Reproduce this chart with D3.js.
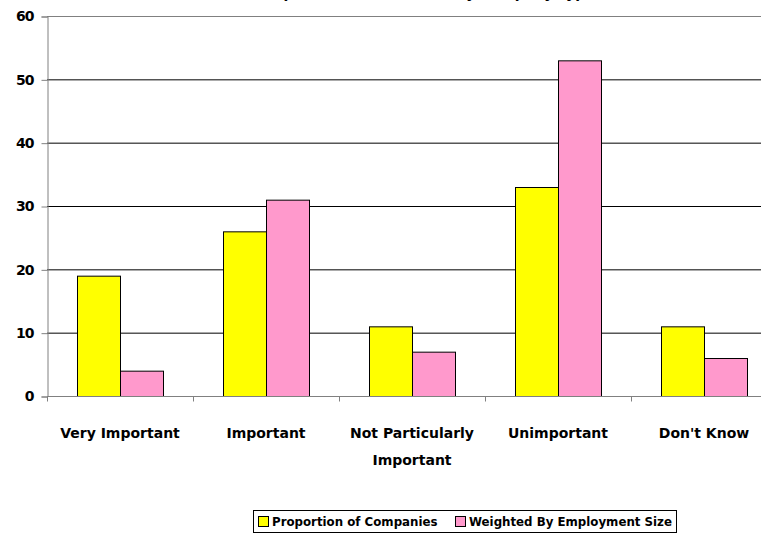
<!DOCTYPE html>
<html><head><meta charset="utf-8">
<script src="https://cdn.jsdelivr.net/npm/d3@7"></script>
<style>body{margin:0;background:#fff}svg{display:block}text{font-family:"DejaVu Sans",sans-serif;font-weight:bold;fill:#000}</style>
</head><body>
<svg id="c" width="761" height="539"></svg>
<script>
const categories = [["Very Important"],["Important"],["Not Particularly","Important"],["Unimportant"],["Don't Know"]];
const seriesNames = ["Proportion of Companies","Weighted By Employment Size"];
const proportion = [19,26,11,33,11];
const weighted = [4,31,7,53,6];
const yTicks = [0,10,20,30,40,50,60];
const colors = ["#FFFF00","#FF99CC"];
const titleText = "Importance of Attribute by Company Type (%)";

(function(){
const svg = d3.select("#c");
const mLeft = 47, mTop = 16, mBottom = 396, bandW = 146;
const x = d3.scaleBand().domain(d3.range(categories.length)).range([mLeft, mLeft + bandW*categories.length]).paddingInner(0).paddingOuter(0);
const y = d3.scaleLinear().domain([0,60]).range([mBottom, mTop]);
const barW = 43, groupOff = (bandW - 2*barW)/2;

svg.append("text").attr("x",445).attr("y",-2).attr("text-anchor","middle").style("font-size","14px").text(titleText);

// gridlines
svg.append("g").selectAll("line").data(yTicks.filter(d=>d>0)).join("line")
  .attr("x1",mLeft).attr("x2",761).attr("y1",d=>y(d)+0.5).attr("y2",d=>y(d)+0.5)
  .attr("stroke",d=>d===60?"#808080":"#000").attr("stroke-width",1);

// bars
const series = [proportion, weighted];
series.forEach((vals, si) => {
  svg.append("g").selectAll("rect").data(vals).join("rect")
    .attr("x",(d,i)=>x(i)+groupOff+si*barW+0.5)
    .attr("y",d=>y(d)+0.5)
    .attr("width",barW)
    .attr("height",d=>y(0)-y(d))
    .attr("fill",colors[si]).attr("stroke","#000").attr("stroke-width",1);
});

// y axis
const yAxis = d3.axisLeft(y).tickValues(yTicks).tickSize(6).tickPadding(8);
const gy = svg.append("g").attr("transform",`translate(${mLeft+0.5},0.5)`).call(yAxis);
gy.select(".domain").attr("stroke","#808080");
gy.selectAll(".tick line").attr("stroke","#808080");
gy.selectAll("text").style("font-size","14px").attr("font-family",null).attr("letter-spacing","-1px");

// x axis
const gx = svg.append("g").attr("transform",`translate(0,${mBottom+0.5})`);
gx.append("line").attr("x1",mLeft).attr("x2",761).attr("stroke","#808080");
gx.selectAll(".tk").data(d3.range(categories.length+1)).join("line").attr("class","tk")
  .attr("x1",i=>mLeft+i*bandW+0.5).attr("x2",i=>mLeft+i*bandW+0.5).attr("y1",0).attr("y2",5).attr("stroke","#808080");
const lab = svg.append("g").selectAll("text").data(categories).join("text")
  .attr("text-anchor","middle").style("font-size","14px");
lab.each(function(lines,i){
  d3.select(this).selectAll("tspan").data(lines).join("tspan")
    .attr("x",x(i)+bandW/2).attr("y",(d,j)=>438+j*27).text(d=>d);
});

// legend
const lg = svg.append("g");
lg.append("rect").attr("x",253.5).attr("y",510.5).attr("width",423).attr("height",22).attr("fill","#fff").attr("stroke","#000");
const lx = [258,455];
seriesNames.forEach((n,i)=>{
  lg.append("rect").attr("x",lx[i]+0.5).attr("y",516.5).attr("width",10).attr("height",10).attr("fill",colors[i]).attr("stroke","#000");
  lg.append("text").attr("x",lx[i]+14).attr("y",526).style("font-size","11.8px").text(n);
});
})();
</script>
</body></html>
